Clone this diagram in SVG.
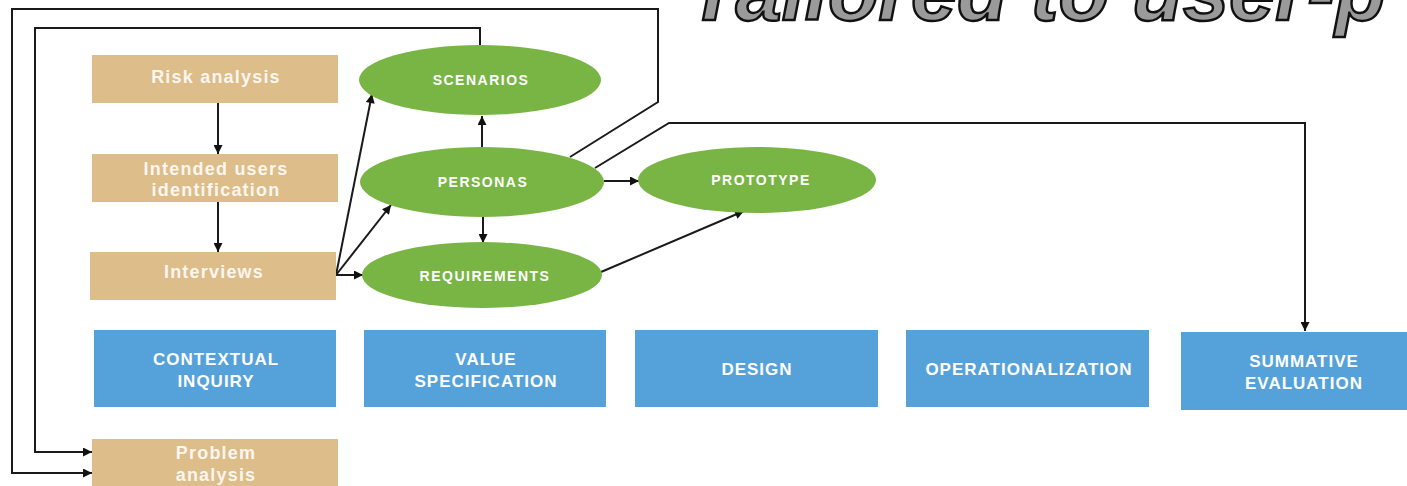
<svg xmlns="http://www.w3.org/2000/svg" width="1407" height="486" viewBox="0 0 1407 486">
  <style>
    .tan { fill: #DDBD8A; }
    .green { fill: #79B545; }
    .blue { fill: #55A2DA; }
    .lbl { font-family: "Liberation Sans", Arial, sans-serif; font-weight: bold; fill: #ffffff; text-anchor: middle; }
    .tanlbl { font-size: 18px; letter-spacing: 1.2px; fill: #FBF6EE; }
    .ovlbl { font-size: 14px; letter-spacing: 1.5px; }
    .bluelbl { font-size: 17px; letter-spacing: 1px; }
    .wire { fill: none; stroke: #1a1a1a; stroke-width: 2; }
    .title { font-family: "Liberation Sans", Arial, sans-serif; font-weight: bold; font-style: italic; font-size: 83px; fill: #9a9a9a; stroke: #111; stroke-width: 2.5; }
  </style>
  <defs>
    <marker id="arrow" viewBox="0 0 10 10" refX="10" refY="5" markerWidth="10" markerHeight="9" markerUnits="userSpaceOnUse" orient="auto">
      <path d="M0,0 L10,5 L0,10 z" fill="#111"/>
    </marker>
  </defs>

  <rect width="1407" height="486" fill="#ffffff"/>

  <!-- heading, clipped by the top edge -->
  <text class="title" x="688" y="20">Tailored to user-p</text>

  <!-- connectors -->
  <g id="connectors">
    <line class="wire" x1="218" y1="103" x2="218" y2="154" marker-end="url(#arrow)"/>
    <line class="wire" x1="218" y1="202" x2="218" y2="252" marker-end="url(#arrow)"/>
    <line class="wire" x1="336" y1="275" x2="372" y2="94" marker-end="url(#arrow)"/>
    <line class="wire" x1="336" y1="275" x2="391" y2="205" marker-end="url(#arrow)"/>
    <line class="wire" x1="336" y1="275" x2="363" y2="275" marker-end="url(#arrow)"/>
    <line class="wire" x1="482" y1="147" x2="482" y2="116" marker-end="url(#arrow)"/>
    <line class="wire" x1="483" y1="216" x2="483" y2="243" marker-end="url(#arrow)"/>
    <line class="wire" x1="604" y1="181" x2="639" y2="181" marker-end="url(#arrow)"/>
    <line class="wire" x1="601" y1="272" x2="744" y2="211" marker-end="url(#arrow)"/>
    <polyline class="wire" points="570,157 658,102 658,9 12,9 12,473 92,473" marker-end="url(#arrow)"/>
    <polyline class="wire" points="480,46 480,28 35,28 35,452 92,452" marker-end="url(#arrow)"/>
    <polyline class="wire" points="595,168 669,123 1305,123 1305,331" marker-end="url(#arrow)"/>
  </g>

  <!-- tan process steps -->
  <g id="risk-analysis">
    <rect class="tan" x="92" y="55" width="246" height="48"/>
    <text class="lbl tanlbl" x="216" y="83">Risk analysis</text>
  </g>
  <g id="intended-users">
    <rect class="tan" x="92" y="154" width="246" height="48"/>
    <text class="lbl tanlbl" x="216" y="175">Intended users</text>
    <text class="lbl tanlbl" x="216" y="196">identification</text>
  </g>
  <g id="interviews">
    <rect class="tan" x="90" y="252" width="246" height="48"/>
    <text class="lbl tanlbl" x="214" y="278">Interviews</text>
  </g>
  <g id="problem-analysis">
    <rect class="tan" x="92" y="439" width="246" height="50"/>
    <text class="lbl tanlbl" x="216" y="459">Problem</text>
    <text class="lbl tanlbl" x="216" y="481">analysis</text>
  </g>

  <!-- green artefacts -->
  <g id="scenarios">
    <ellipse class="green" cx="480" cy="80" rx="121" ry="35"/>
    <text class="lbl ovlbl" x="481" y="85">SCENARIOS</text>
  </g>
  <g id="personas">
    <ellipse class="green" cx="482" cy="182" rx="122" ry="35"/>
    <text class="lbl ovlbl" x="483" y="187">PERSONAS</text>
  </g>
  <g id="requirements">
    <ellipse class="green" cx="482" cy="275" rx="120" ry="33"/>
    <text class="lbl ovlbl" x="485" y="281">REQUIREMENTS</text>
  </g>
  <g id="prototype">
    <ellipse class="green" cx="757" cy="180" rx="119" ry="33"/>
    <text class="lbl ovlbl" x="761" y="185">PROTOTYPE</text>
  </g>

  <!-- blue phases -->
  <g id="contextual-inquiry">
    <rect class="blue" x="94" y="330" width="242" height="77"/>
    <text class="lbl bluelbl" x="216" y="365">CONTEXTUAL</text>
    <text class="lbl bluelbl" x="216" y="387">INQUIRY</text>
  </g>
  <g id="value-specification">
    <rect class="blue" x="364" y="330" width="242" height="77"/>
    <text class="lbl bluelbl" x="486" y="365">VALUE</text>
    <text class="lbl bluelbl" x="486" y="387">SPECIFICATION</text>
  </g>
  <g id="design">
    <rect class="blue" x="635" y="330" width="243" height="77"/>
    <text class="lbl bluelbl" x="757" y="375">DESIGN</text>
  </g>
  <g id="operationalization">
    <rect class="blue" x="906" y="330" width="243" height="77"/>
    <text class="lbl bluelbl" x="1029" y="375">OPERATIONALIZATION</text>
  </g>
  <g id="summative-evaluation">
    <rect class="blue" x="1181" y="332" width="226" height="78"/>
    <text class="lbl bluelbl" x="1304" y="367">SUMMATIVE</text>
    <text class="lbl bluelbl" x="1304" y="389">EVALUATION</text>
  </g>
</svg>
